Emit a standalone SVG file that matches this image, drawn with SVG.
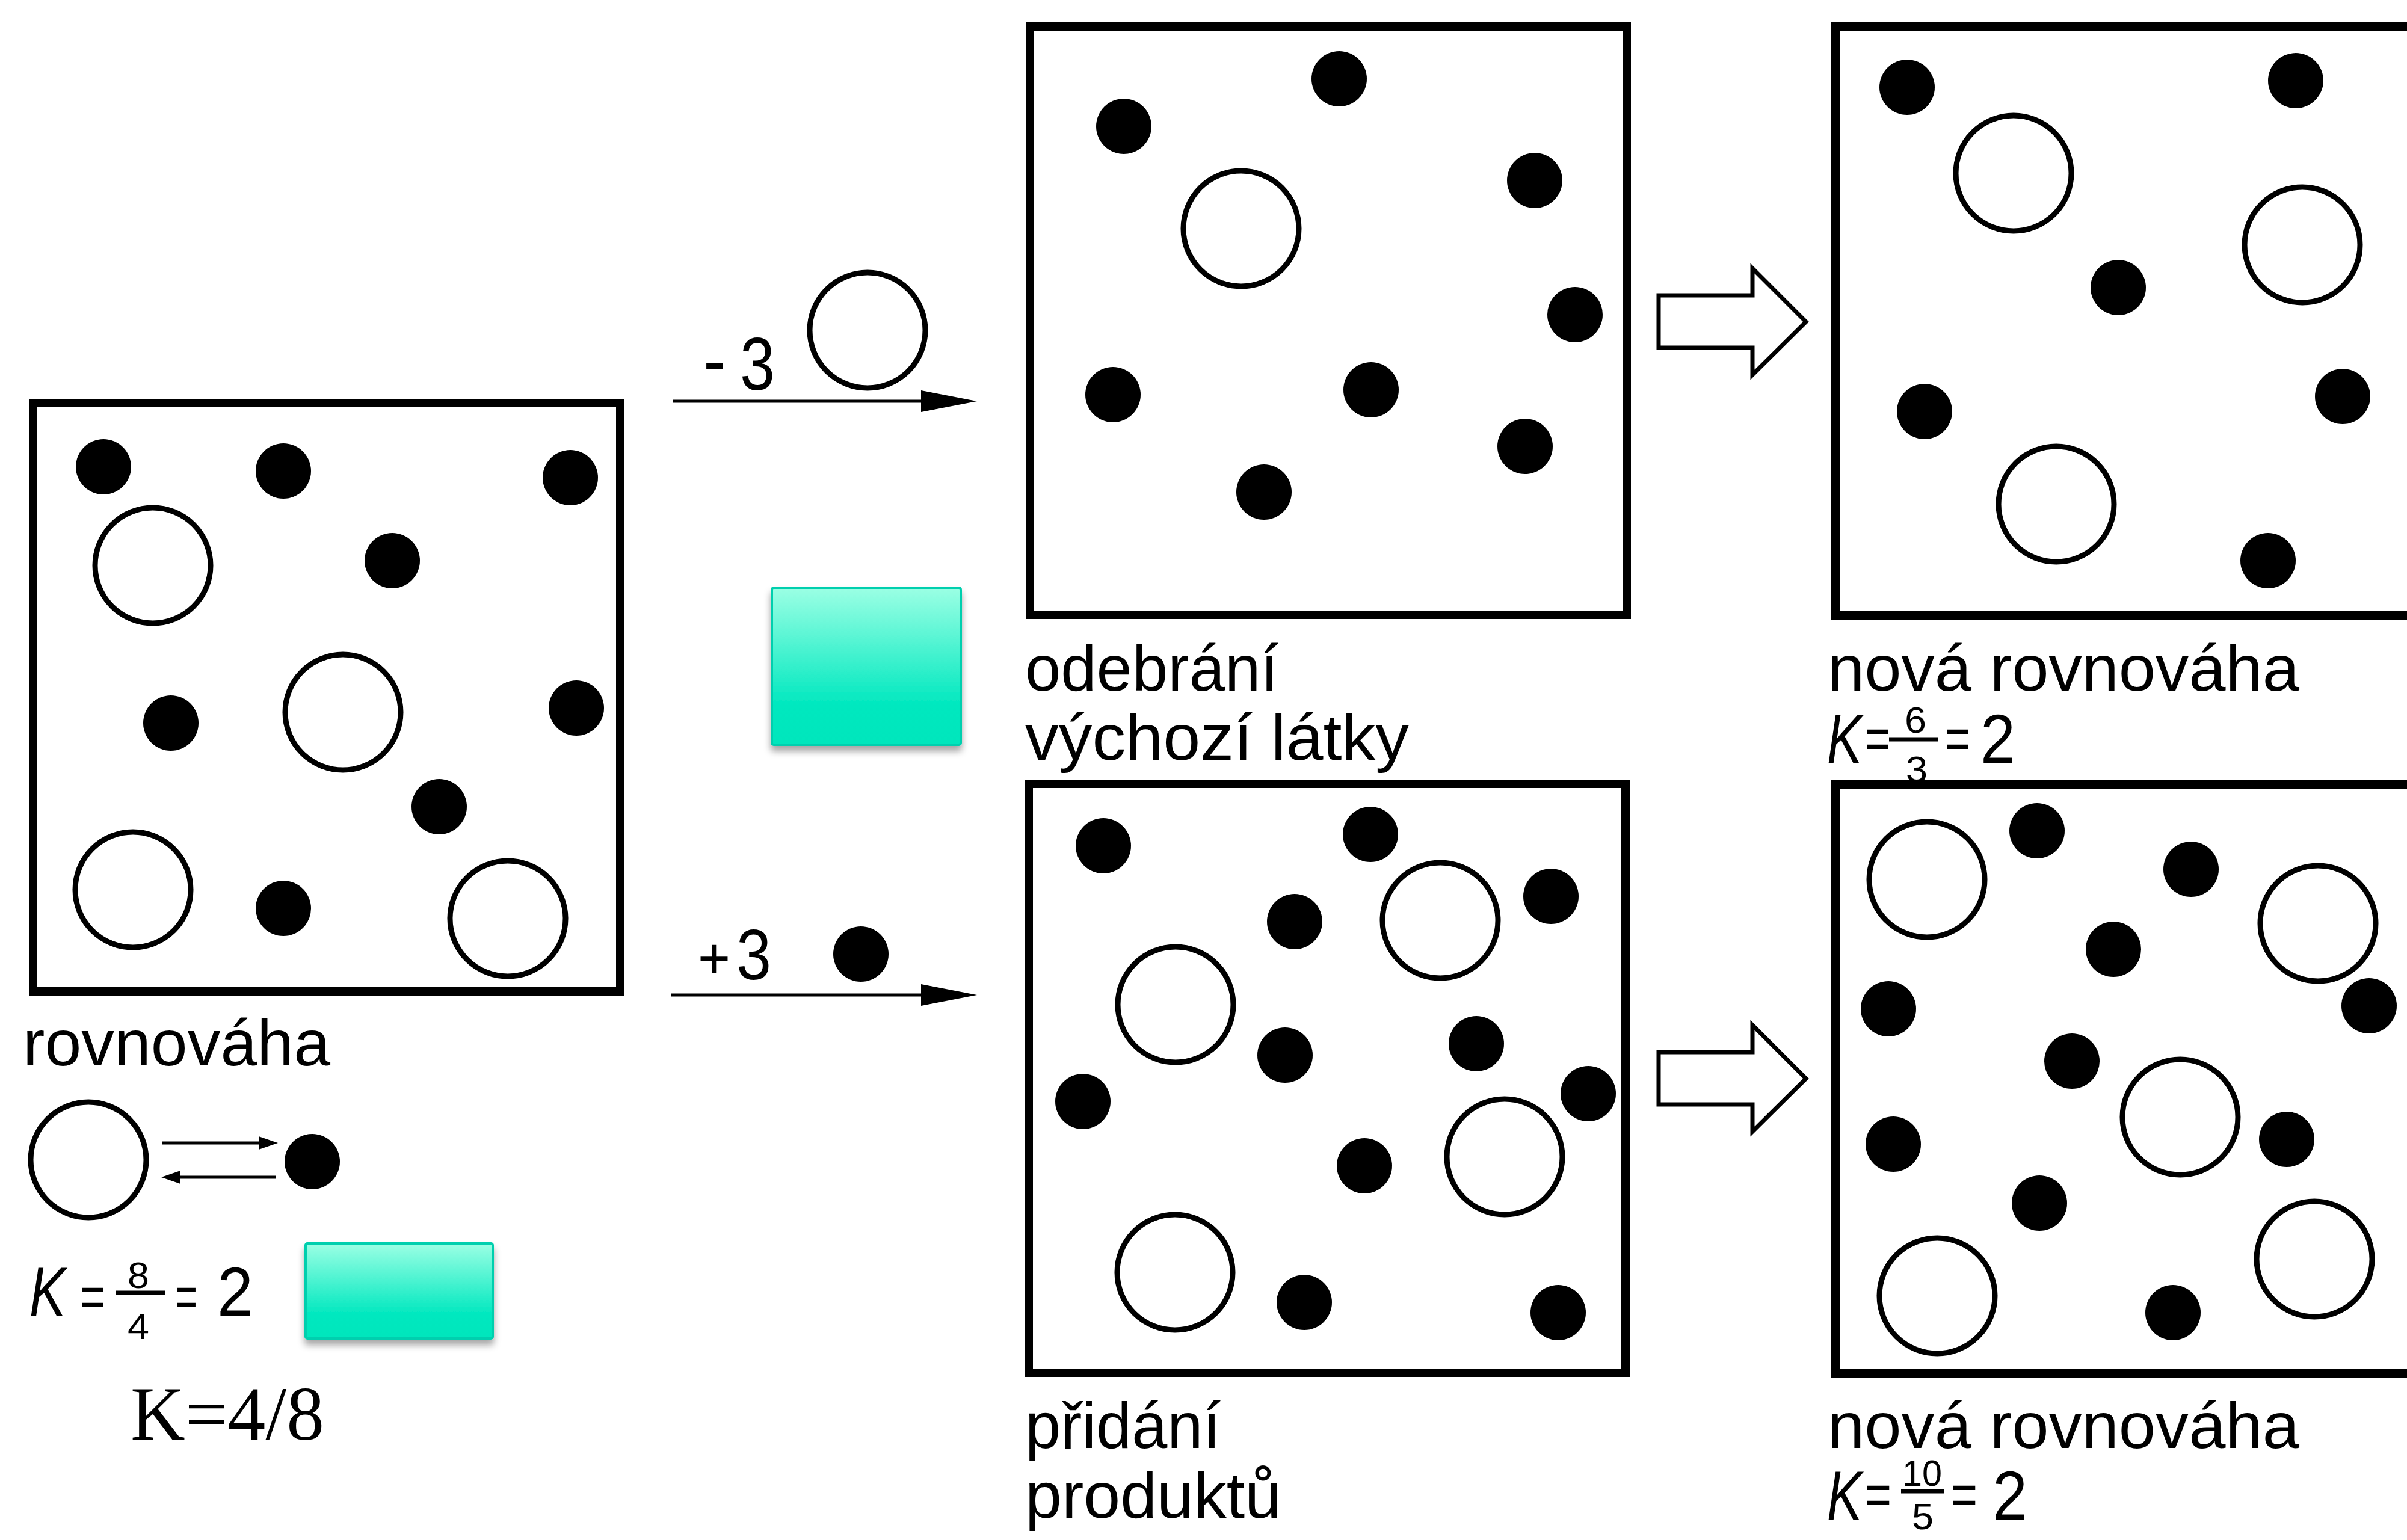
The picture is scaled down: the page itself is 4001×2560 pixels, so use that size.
<svg xmlns="http://www.w3.org/2000/svg" xmlns:xlink="http://www.w3.org/1999/xlink" width="4001" height="2560" viewBox="0 0 4001 2560">
  <defs>
    <style>
      .box { fill: #fff; stroke: #000; stroke-width: 14; }
      .ring { fill: #fff; stroke: #000; stroke-width: 9; }
      .dot { fill: #000; }
      .lbl { font-family: "Liberation Sans", Arial, sans-serif; font-size: 108px; fill: #000; }
      .num { font-family: "Liberation Sans", Arial, sans-serif; fill: #000; }
      .eq { font-family: "Liberation Sans", Arial, sans-serif; font-size: 100px; fill: #000; }
      .frac { font-family: "Liberation Sans", Arial, sans-serif; font-size: 62px; fill: #000; }
      .k { font-family: "Liberation Sans", Arial, sans-serif; font-style: italic; font-size: 115px; fill: #000; }
      .bar { stroke: #000; stroke-width: 7; }
      .thin { stroke: #000; stroke-width: 5; fill: none; }
      .block { fill: #fff; stroke: #000; stroke-width: 7; stroke-linejoin: miter; }
      .tag { fill: url(#teal); stroke: #00cfae; stroke-width: 4; filter: url(#shadow); }
    </style>
    <linearGradient id="teal" x1="0" y1="0" x2="0" y2="1">
      <stop offset="0" stop-color="#9bffe4"/>
      <stop offset="0.75" stop-color="#00e8bf"/>
      <stop offset="1" stop-color="#00e6bc"/>
    </linearGradient>
    <filter id="shadow" x="-20%" y="-20%" width="140%" height="160%">
      <feDropShadow dx="0" dy="9" stdDeviation="6" flood-color="#000" flood-opacity="0.35"/>
    </filter>
    <circle id="o" r="96" class="ring"/>
    <circle id="d" r="46" class="dot"/>
  </defs>

  <rect width="4001" height="2560" fill="#fff"/>

  <!-- starting equilibrium -->
  <g id="box-equilibrium">
    <rect class="box" x="55" y="670" width="976" height="978"/>
    <use xlink:href="#d" x="172" y="776"/>
    <use xlink:href="#d" x="471" y="783"/>
    <use xlink:href="#d" x="948" y="794"/>
    <use xlink:href="#d" x="652" y="932"/>
    <use xlink:href="#d" x="284" y="1202"/>
    <use xlink:href="#d" x="958" y="1177"/>
    <use xlink:href="#d" x="730" y="1341"/>
    <use xlink:href="#d" x="471" y="1510"/>
    <use xlink:href="#o" x="254" y="940"/>
    <use xlink:href="#o" x="570" y="1184"/>
    <use xlink:href="#o" x="221" y="1479"/>
    <use xlink:href="#o" x="844" y="1527"/>
    <text class="lbl" x="38" y="1771" textLength="511" lengthAdjust="spacingAndGlyphs">rovnováha</text>
  </g>

  <!-- reaction legend and constant -->
  <g id="legend">
    <use xlink:href="#o" x="147" y="1928"/>
    <use xlink:href="#d" x="519" y="1931"/>
    <text class="k" x="49" y="2187" textLength="60" lengthAdjust="spacingAndGlyphs">K</text>
    <text class="eq" x="133" y="2190" textLength="42" lengthAdjust="spacingAndGlyphs">=</text>
    <text class="frac" x="212" y="2141" textLength="36" lengthAdjust="spacingAndGlyphs">8</text>
    <line class="bar" x1="193" y1="2149" x2="274" y2="2149"/>
    <text class="frac" x="212" y="2226" textLength="36" lengthAdjust="spacingAndGlyphs">4</text>
    <text class="eq" x="292" y="2190" textLength="36" lengthAdjust="spacingAndGlyphs">=</text>
    <text class="num" x="361" y="2187" font-size="115" textLength="60" lengthAdjust="spacingAndGlyphs">2</text>
  </g>

  <g id="note-k">
    <rect class="tag" x="508" y="2067" width="311" height="158" rx="3"/>
    <text x="217" y="2393" font-family="'Liberation Serif', 'Times New Roman', serif" font-size="128" fill="#000" textLength="322" lengthAdjust="spacingAndGlyphs">K=4/8</text>
  </g>

  <g id="note-mid">
    <rect class="tag" x="1283" y="977" width="314" height="261" rx="3"/>
  </g>

  <!-- removal of reactant -->
  <g id="box-removal">
    <rect class="box" x="1712" y="44" width="992" height="978"/>
    <use xlink:href="#d" x="1868" y="210"/>
    <use xlink:href="#d" x="2226" y="131"/>
    <use xlink:href="#d" x="2551" y="300"/>
    <use xlink:href="#d" x="2618" y="523"/>
    <use xlink:href="#d" x="1850" y="656"/>
    <use xlink:href="#d" x="2279" y="648"/>
    <use xlink:href="#d" x="2535" y="742"/>
    <use xlink:href="#d" x="2101" y="818"/>
    <use xlink:href="#o" x="2063" y="380"/>
    <text class="lbl" x="1704" y="1148" textLength="421" lengthAdjust="spacingAndGlyphs">odebrání</text>
    <text class="lbl" x="1704" y="1263" textLength="638" lengthAdjust="spacingAndGlyphs">výchozí látky</text>
  </g>

  <!-- addition of product -->
  <g id="box-addition">
    <rect class="box" x="1710" y="1303" width="992" height="979"/>
    <use xlink:href="#d" x="1834" y="1406"/>
    <use xlink:href="#d" x="2278" y="1387"/>
    <use xlink:href="#d" x="2152" y="1532"/>
    <use xlink:href="#d" x="2578" y="1490"/>
    <use xlink:href="#d" x="2136" y="1754"/>
    <use xlink:href="#d" x="2454" y="1735"/>
    <use xlink:href="#d" x="1800" y="1831"/>
    <use xlink:href="#d" x="2640" y="1818"/>
    <use xlink:href="#d" x="2268" y="1938"/>
    <use xlink:href="#d" x="2168" y="2165"/>
    <use xlink:href="#d" x="2590" y="2182"/>
    <use xlink:href="#o" x="2394" y="1530"/>
    <use xlink:href="#o" x="1954" y="1670"/>
    <use xlink:href="#o" x="2501" y="1923"/>
    <use xlink:href="#o" x="1953" y="2115"/>
    <text class="lbl" x="1704" y="2407" textLength="325" lengthAdjust="spacingAndGlyphs">přidání</text>
    <text class="lbl" x="1704" y="2523" textLength="426" lengthAdjust="spacingAndGlyphs">produktů</text>
  </g>

  <!-- new equilibrium after removal -->
  <g id="box-new-top">
    <rect class="box" x="3051" y="44" width="970" height="979"/>
    <use xlink:href="#d" x="3170" y="145"/>
    <use xlink:href="#d" x="3816" y="134"/>
    <use xlink:href="#d" x="3521" y="478"/>
    <use xlink:href="#d" x="3199" y="684"/>
    <use xlink:href="#d" x="3894" y="659"/>
    <use xlink:href="#d" x="3770" y="932"/>
    <use xlink:href="#o" x="3347" y="288"/>
    <use xlink:href="#o" x="3827" y="407"/>
    <use xlink:href="#o" x="3418" y="838"/>
    <text class="lbl" x="3038" y="1148" textLength="784" lengthAdjust="spacingAndGlyphs">nová  rovnováha</text>
    <text class="k" x="3037" y="1268" textLength="58" lengthAdjust="spacingAndGlyphs">K</text>
    <text class="eq" x="3100" y="1262" textLength="42" lengthAdjust="spacingAndGlyphs">=</text>
    <text class="frac" x="3166" y="1218" textLength="36" lengthAdjust="spacingAndGlyphs">6</text>
    <line class="bar" x1="3140" y1="1229" x2="3222" y2="1229"/>
    <text class="frac" x="3168" y="1300" textLength="36" lengthAdjust="spacingAndGlyphs">3</text>
    <text class="eq" x="3233" y="1262" textLength="42" lengthAdjust="spacingAndGlyphs">=</text>
    <text class="num" x="3292" y="1268" font-size="115" textLength="58" lengthAdjust="spacingAndGlyphs">2</text>
  </g>

  <!-- new equilibrium after addition -->
  <g id="box-new-bottom">
    <rect class="box" x="3051" y="1304" width="970" height="979"/>
    <use xlink:href="#d" x="3386" y="1381"/>
    <use xlink:href="#d" x="3642" y="1445"/>
    <use xlink:href="#d" x="3513" y="1578"/>
    <use xlink:href="#d" x="3139" y="1677"/>
    <use xlink:href="#d" x="3938" y="1672"/>
    <use xlink:href="#d" x="3444" y="1764"/>
    <use xlink:href="#d" x="3147" y="1902"/>
    <use xlink:href="#d" x="3801" y="1894"/>
    <use xlink:href="#d" x="3390" y="2000"/>
    <use xlink:href="#d" x="3612" y="2182"/>
    <use xlink:href="#o" x="3203" y="1462"/>
    <use xlink:href="#o" x="3853" y="1535"/>
    <use xlink:href="#o" x="3624" y="1857"/>
    <use xlink:href="#o" x="3220" y="2154"/>
    <use xlink:href="#o" x="3847" y="2093"/>
    <text class="lbl" x="3038" y="2407" textLength="784" lengthAdjust="spacingAndGlyphs">nová  rovnováha</text>
    <text class="k" x="3037" y="2526" textLength="58" lengthAdjust="spacingAndGlyphs">K</text>
    <text class="eq" x="3100" y="2519" textLength="44" lengthAdjust="spacingAndGlyphs">=</text>
    <text class="frac" x="3162" y="2470" textLength="66" lengthAdjust="spacingAndGlyphs">10</text>
    <line class="bar" x1="3160" y1="2479" x2="3232" y2="2479"/>
    <text class="frac" x="3178" y="2542" textLength="36" lengthAdjust="spacingAndGlyphs">5</text>
    <text class="eq" x="3243" y="2519" textLength="44" lengthAdjust="spacingAndGlyphs">=</text>
    <text class="num" x="3312" y="2526" font-size="115" textLength="58" lengthAdjust="spacingAndGlyphs">2</text>
  </g>

  <!-- change labels above the arrows -->
  <g id="change-remove">
    <text class="num" x="1169" y="643" font-size="130" textLength="38" lengthAdjust="spacingAndGlyphs">-</text>
    <text class="num" x="1230" y="648" font-size="125" textLength="58" lengthAdjust="spacingAndGlyphs">3</text>
    <use xlink:href="#o" x="1442" y="549"/>
  </g>
  <g id="change-add">
    <text class="num" x="1160" y="1625" font-size="95" textLength="54" lengthAdjust="spacingAndGlyphs">+</text>
    <text class="num" x="1224" y="1628" font-size="118" textLength="58" lengthAdjust="spacingAndGlyphs">3</text>
    <use xlink:href="#d" x="1431" y="1586"/>
  </g>

  <!-- arrows -->
  <g id="connectors">
    <line class="thin" x1="1119" y1="667" x2="1540" y2="667"/>
    <polygon points="1531,649 1624,667 1531,685" fill="#000"/>
    <line class="thin" x1="1115" y1="1654" x2="1540" y2="1654"/>
    <polygon points="1531,1636 1624,1654 1531,1672" fill="#000"/>
    <path class="block" d="M2757,491 H2913 V446 L3002,535 L2913,623 V578 H2757 Z"/>
    <path class="block" d="M2757,1749 H2913 V1704 L3002,1793 L2913,1881 V1836 H2757 Z"/>
    <line class="thin" x1="270" y1="1900" x2="440" y2="1900"/>
    <polygon points="430,1889 462,1900 430,1911" fill="#000"/>
    <line class="thin" x1="290" y1="1957" x2="459" y2="1957"/>
    <polygon points="300,1946 268,1957 300,1968" fill="#000"/>
  </g>
</svg>
